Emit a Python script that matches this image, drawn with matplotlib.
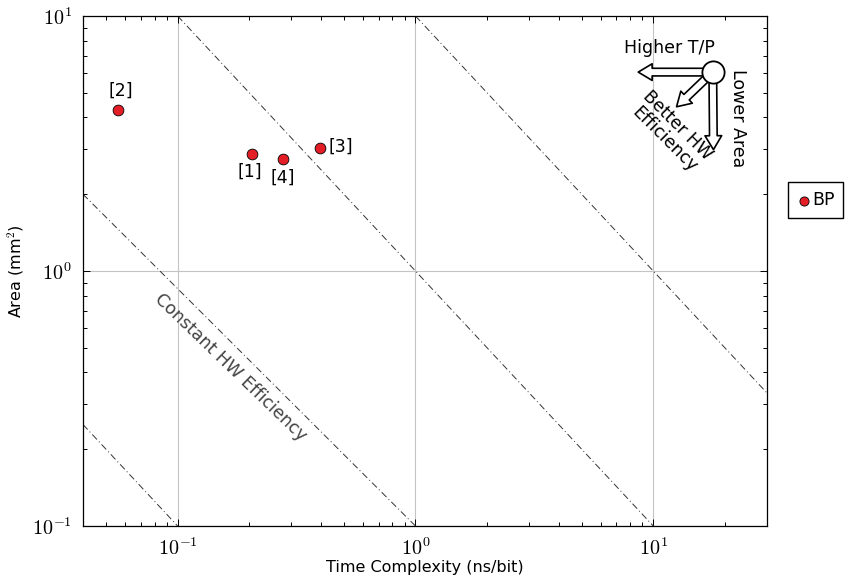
import numpy as np
import matplotlib
matplotlib.use('Agg')
import matplotlib.pyplot as plt
from matplotlib.ticker import LogLocator, FuncFormatter, NullFormatter

plt.rcParams['font.family'] = ['DejaVu Sans']
plt.rcParams['mathtext.fontset'] = 'cm'

# Designs (time complexity ns/bit, area mm^2)
labels = ['[1]', '[2]', '[3]', '[4]']
time_ns = [0.206, 0.056, 0.398, 0.278]
area_mm2 = [2.87, 4.27, 3.03, 2.74]

# Constant HW efficiency guide lines (end points)
guide_x = [[0.04, 0.1], [0.04, 1.0], [0.1, 10.0], [1.0, 30.0]]
guide_y = [[0.25, 0.1], [2.0, 0.1], [10.0, 0.1], [10.0, 0.333]]

fig = plt.figure(figsize=(8.52, 5.84), dpi=100)
ax = fig.add_axes([0.0974, 0.0993, 0.8026, 0.8733])
ax.set_xscale('log')
ax.set_yscale('log')
ax.set_xlim(0.04, 30)
ax.set_ylim(0.1, 10)

ax.grid(True, which='major', color='#c4c4c4', linewidth=0.8)
ax.set_axisbelow(True)

for gx, gy in zip(guide_x, guide_y):
    ax.plot(gx, gy, color='#333333', linewidth=0.7,
            linestyle=(0, (7, 3, 1, 3)))

ax.scatter(time_ns, area_mm2, s=60, color='#e41e26', edgecolor='black',
           linewidth=0.6, zorder=5, label='BP')

# point labels
offsets = {'[1]': (-2, -12.5), '[2]': (2, 14), '[3]': (15, 1), '[4]': (0, -13.5)}
for lab, x, y in zip(labels, time_ns, area_mm2):
    dx, dy = offsets[lab]
    ax.annotate(lab, (x, y), xytext=(dx, dy), textcoords='offset points',
                ha='center', va='center', fontsize=12.5)

ax.text(0.216, 0.312, 'Constant HW Efficiency', transform=ax.transAxes,
        rotation=-44, rotation_mode='anchor', ha='center', va='center',
        fontsize=12.5, color='#444444')

# direction hint in top right corner
cx, cy = 0.921, 0.890
arrow = dict(arrowstyle='simple,head_width=1.2,head_length=1.0,tail_width=0.55',
             fc='white', ec='black', lw=1.2, shrinkA=0, shrinkB=0)
ax.annotate('', xy=(0.812, cy), xytext=(cx, cy), xycoords='axes fraction',
            arrowprops=arrow, zorder=6)
ax.annotate('', xy=(0.922, 0.738), xytext=(cx, cy), xycoords='axes fraction',
            arrowprops=arrow, zorder=6)
ax.annotate('', xy=(0.868, 0.822), xytext=(cx, cy), xycoords='axes fraction',
            arrowprops=arrow, zorder=6)
ax.plot([cx], [cy], 'o', transform=ax.transAxes, markersize=16,
        markerfacecolor='white', markeredgecolor='black', markeredgewidth=1.3,
        zorder=7)
ax.text(0.858, 0.937, 'Higher T/P', transform=ax.transAxes, ha='center',
        va='center', fontsize=12.5)
ax.text(0.958, 0.80, 'Lower Area', transform=ax.transAxes, rotation=-90,
        ha='center', va='center', fontsize=12.5)
ax.text(0.860, 0.772, 'Better HW\nEfficiency', transform=ax.transAxes,
        rotation=-45, rotation_mode='anchor', ha='center', va='center',
        fontsize=12.5, linespacing=1.1)

fmt = FuncFormatter(lambda v, p: r'$10^{%d}$' % int(round(np.log10(v))))
ax.xaxis.set_major_locator(LogLocator(base=10, numticks=10))
ax.yaxis.set_major_locator(LogLocator(base=10, numticks=10))
ax.xaxis.set_minor_locator(LogLocator(base=10, subs=np.arange(2, 10), numticks=20))
ax.yaxis.set_minor_locator(LogLocator(base=10, subs=np.arange(2, 10), numticks=20))
ax.xaxis.set_major_formatter(fmt)
ax.yaxis.set_major_formatter(fmt)
ax.xaxis.set_minor_formatter(NullFormatter())
ax.yaxis.set_minor_formatter(NullFormatter())
ax.tick_params(which='both', direction='in', top=True, right=True,
               labelsize=14.5, width=0.7)
ax.tick_params(which='major', length=5, pad=8)
ax.tick_params(which='minor', length=3)
for s in ax.spines.values():
    s.set_linewidth(0.9)

ax.set_xlabel('Time Complexity (ns/bit)', fontsize=11.5, labelpad=1)
ax.set_ylabel(r'Area (mm$^2$)', fontsize=11.5, labelpad=4)

ax.legend(loc='center left', bbox_to_anchor=(1.031, 0.639), borderaxespad=0,
          fancybox=False, edgecolor='black', framealpha=1, fontsize=12.5,
          handletextpad=0.1, handlelength=0.8, borderpad=0.5, markerscale=0.85)

fig.savefig('out.png', dpi=100)
